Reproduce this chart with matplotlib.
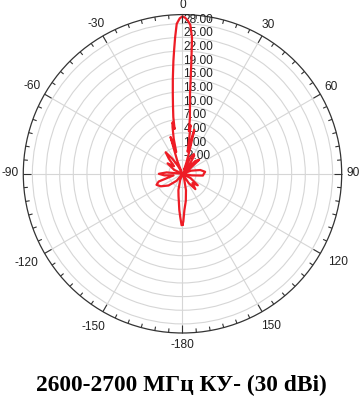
import numpy as np
import matplotlib
matplotlib.use('Agg')
import matplotlib.pyplot as plt
import matplotlib.transforms as mtrans

# ---- data (angle in degrees, clockwise from top; gain in dB) ----
angles_deg = [-180, -179, -177, -175, -170, -166, -160, -150, -140, -130,
              -120, -113, -108, -100, -95, -90, -85, -78, -65, -55,
              -48, -42, -38, -34, -30, -26, -22, -18, -16, -14,
              -12, -11, -10, -9.2, -8, -6.9, -5.8, -4.6, -3.8, -3.1,
              -2.2, -1, 0, 1, 2, 3, 4, 4.5, 5.4, 6.5,
              7.6, 8.5, 9.5, 11, 13, 15, 16.5, 19, 22, 26,
              30, 33, 36, 40, 45, 50, 55, 60, 70, 78,
              85, 90, 95, 100, 108, 118, 127, 133, 140, 146,
              152, 160, 168, 173, 177, 179, 180]
gain_db = [6.2, 6.3, 4.5, 3.0, 0.0, -1.3, -3.5, -5.0, -3.0, -1.0,
           0.5, 1.2, 0.5, -3.0, -1.0, 0.2, -1.5, -5.0, -3.0, -1.0,
           -2.5, -0.5, 1.0, -1.0, -3.0, -4.5, -2.0, 3.5, 0.0, 3.0,
           5.5, 6.5, 5.0, 7.6, 10.0, 12.7, 16.0, 19.9, 22.5, 25.0,
           28.0, 29.2, 29.6, 29.3, 28.7, 27.8, 25.0, 20.0, 12.6, 9.5,
           7.3, 4.5, 5.8, 2.5, 0.0, 5.0, 1.0, -2.0, -4.0, -1.0,
           0.0, -0.3, -2.0, -4.5, -1.0, -0.2, -3.0, -5.0, -3.0, -1.0,
           0.0, -0.3, -0.5, -3.0, -5.0, -3.0, -0.8, -2.0, -0.6, -2.5,
           -5.0, -4.0, -1.3, 1.0, 3.0, 5.5, 6.2]

r_ticks = [-2, 1, 4, 7, 10, 13, 16, 19, 22, 25, 28]
r_tick_labels = ['-2.00', '1.00', '4.00', '7.00', '10.00', '13.00', '16.00',
                 '19.00', '22.00', '25.00', '28.00']
theta_ticks = [0, 30, 60, 90, 120, 150, 180, 210, 240, 270, 300, 330]
theta_labels = ['0', '30', '60', '90', '120', '150', '-180', '-150', '-120',
                '-90', '-60', '-30']
title = '2600-2700 МГц КУ- (30 dBi)'

r_min, r_max = -5, 30
label_font = 'Liberation Sans'

fig = plt.figure(figsize=(3.62, 4.0), dpi=100)
ax = fig.add_axes([0.0642, 0.1675, 0.8798, 0.796], projection='polar')
ax.set_theta_zero_location('N')
ax.set_theta_direction(-1)
ax.set_ylim(r_min, r_max)

ax.plot(np.deg2rad(angles_deg), np.clip(gain_db, r_min, None),
        color='#ee1c25', lw=1.6, zorder=5)

# grid
ax.set_xticks(np.deg2rad(theta_ticks))
ax.set_xticklabels([])
ax.set_yticks(r_ticks)
ax.set_yticklabels([])
ax.tick_params(axis='both', length=0)
ax.grid(True, color='#d6d6d6', lw=0.8)
ax.spines['polar'].set_color('#333333')
ax.spines['polar'].set_linewidth(0.9)

# inward ticks on the outer circle (major every 30, minor every 5 degrees)
px_per_db = (ax.get_position().height * fig.get_figheight() * fig.dpi / 2) / (r_max - r_min)
for th in range(0, 360, 5):
    L = (8 if th % 30 == 0 else 4) / px_per_db
    ax.plot([np.deg2rad(th)] * 2, [r_max, r_max - L], color='#333333',
            lw=0.8, solid_capstyle='butt', clip_on=False, zorder=6)

# radial labels
off = mtrans.offset_copy(ax.transData, fig=fig, x=1, y=1, units='dots')
for v, lab in zip(r_ticks, r_tick_labels):
    ax.text(0, v, lab, transform=off, ha='left', va='baseline',
            fontsize=8.6, family=label_font, color='#222222', zorder=4)

# angle labels placed outside the circle
renderer = fig.canvas.get_renderer()
for th, lab in zip(theta_ticks, theta_labels):
    t = ax.text(np.deg2rad(th), r_max, lab, ha='center', va='center',
                fontsize=8.6, family=label_font, color='#222222')
    bb = t.get_window_extent(renderer)
    w, h = bb.width, 9.0
    s, c = np.sin(np.deg2rad(th)), np.cos(np.deg2rad(th))
    gap = 4.5 if c >= -0.01 else 9.0
    d = gap + abs(s) * w / 2 + abs(c) * h / 2
    t.set_transform(mtrans.offset_copy(ax.transData, fig=fig, x=d * s,
                                       y=d * c + 1, units='dots'))
    t.set_clip_on(False)

fig.text(0.5, 0.0375, title, ha='center', va='center', fontsize=16.8,
         family='Liberation Serif', weight='bold', color='black')

fig.savefig('out.png', dpi=100)
